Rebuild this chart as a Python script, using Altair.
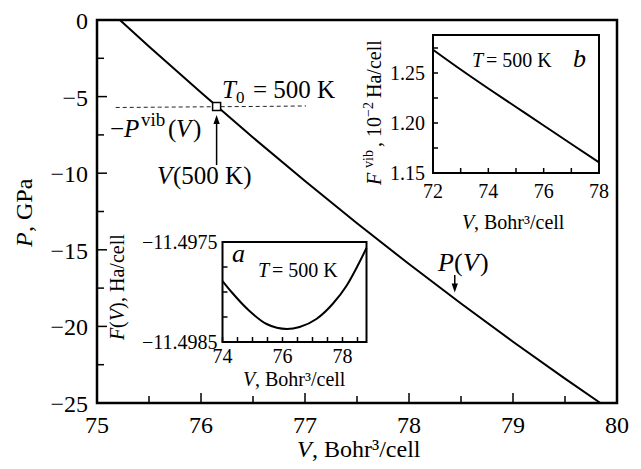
import altair as alt
import pandas as pd

FONT = "Liberation Serif"

# ---------------- main panel: P(V) ----------------
V_MAIN = [75.22, 75.5, 76.0, 76.5, 77.0, 77.5, 78.0, 78.5, 79.0, 79.5, 79.84]
P_MAIN = [0.0, -1.73, -4.74, -7.67, -10.51, -13.27, -15.93, -18.51, -21.00, -23.41, -25.0]
V_VIB = [75.18, 75.6, 76.15, 76.6, 77.01]
P_VIB = [-5.71, -5.69, -5.66, -5.64, -5.61]
V_T0 = [76.15]
P_T0 = [-5.65]
MAIN_X_DOMAIN = [75, 80]
MAIN_Y_DOMAIN = [-25, 0]
MAIN_X_MAJOR = [75, 76, 77, 78, 79, 80]
MAIN_X_LABELS = ["75", "76", "77", "78", "79", "80"]
MAIN_X_MINOR = [75.5, 76.5, 77.5, 78.5, 79.5]
MAIN_Y_MAJOR = [-25, -20, -15, -10, -5, 0]
MAIN_Y_LABELS = ["\u221225", "\u221220", "\u221215", "\u221210", "\u22125", "0"]
MAIN_Y_MINOR = [-22.5, -17.5, -12.5, -7.5, -2.5]

ARROW_V = [76.15, 78.44]
ARROW_P_FROM = [-9.47, -16.64]
ARROW_P_TO = [-6.6, -17.3]
ARROW_HEAD_P = [-6.49, -17.49]
ARROW_DIR = ["up", "down"]

MAIN_TXT = ["T", "0", "= 500 K", "\u2212", "P", "vib", "(", "V", ")", "V", "(500 K)",
            "P", "(", "V", ")", "V", ", Bohr\u00b3/cell", "P", ", GPa"]
MAIN_TXT_V = [76.202, 76.337, 76.500, 75.125, 75.260, 75.423, 75.683, 75.760, 75.924,
              75.577, 75.731, 78.279, 78.433, 78.519, 78.683, 76.923, 77.067, 74.375, 74.375]
MAIN_TXT_P = [-5.091, -5.418, -5.091, -7.637, -7.637, -6.919, -7.637, -7.637, -7.637,
              -10.705, -10.705, -16.384, -16.384, -16.384, -16.384, -28.525, -28.525, -14.817, -13.838]
MAIN_TXT_SIZE = [25, 17, 25, 25, 25, 19, 25, 25, 25, 25, 25, 26, 26, 26, 26, 24, 24, 24, 24]
MAIN_TXT_ITALIC = [1, 0, 0, 0, 1, 0, 0, 1, 0, 1, 0, 1, 0, 1, 0, 1, 0, 1, 0]
MAIN_TXT_ANGLE = [0] * 17 + [270, 270]

# ---------------- inset a: F(V) ----------------
A_V = [74.0, 74.33, 74.9, 75.47, 76.15, 76.57, 77.13, 77.67, 78.13, 78.5, 78.8]
A_F = [-11.49789, -11.49801, -11.49819, -11.49832, -11.49837, -11.49835,
       -11.49827, -11.49812, -11.49794, -11.49774, -11.49756]
A_X_DOMAIN = [74, 78.8]
A_Y_DOMAIN = [-11.4985, -11.4975]
A_X_TICKS = [74, 74.5, 75, 75.5, 76, 76.5, 77, 77.5, 78, 78.5]
A_X_LABEL_AT = [74, 76, 78]
A_X_LABELS = ["74", "76", "78"]
A_Y_TICKS = [-11.4985, -11.49825, -11.498, -11.49775, -11.4975]
A_Y_LABEL_AT = [-11.4985, -11.4975]
A_Y_LABELS = ["\u221211.4985", "\u221211.4975"]
A_TXT = ["a", "T", "= 500 K", "V", ", Bohr\u00b3/cell", "F", "(", "V", ")", ", Ha/cell"]
A_TXT_V = [74.317, 75.183, 75.65, 74.683, 75.083, 70.717, 70.717, 70.717, 70.717, 70.717]
A_TXT_F = [-11.4977, -11.49785, -11.49785, -11.49894, -11.49894,
           -11.49848, -11.49836, -11.49829, -11.49817, -11.4981]
A_TXT_SIZE = [26, 20, 20, 20, 20, 20, 20, 20, 20, 20]
A_TXT_ITALIC = [1, 1, 0, 1, 0, 1, 0, 1, 0, 0]
A_TXT_ANGLE = [0, 0, 0, 0, 0, 270, 270, 270, 270, 270]

# ---------------- inset b: F_vib(V) ----------------
B_V = [72, 73, 74, 75, 76, 77, 78]
B_F = [1.2733, 1.2535, 1.2345, 1.2160, 1.1975, 1.1790, 1.1606]
B_X_DOMAIN = [72, 78]
B_Y_DOMAIN = [1.15, 1.288]
B_X_TICKS = [72, 73, 74, 75, 76, 77, 78]
B_X_LABEL_AT = [72, 74, 76, 78]
B_X_LABELS = ["72", "74", "76", "78"]
B_Y_TICKS = [1.15, 1.175, 1.2, 1.225, 1.25, 1.275]
B_Y_LABEL_AT = [1.15, 1.20, 1.25]
B_Y_LABELS = ["1.15", "1.20", "1.25"]
B_TXT = ["T", "= 500 K", "b", "V", ", Bohr\u00b3/cell", "F", "vib", ", 10", "\u22122", "Ha/cell"]
B_TXT_V = [73.409, 73.915, 77.06, 73.048, 73.482, 70.121, 69.832, 70.121, 69.832, 70.121]
B_TXT_F = [1.256, 1.256, 1.256, 1.094, 1.094, 1.138, 1.155, 1.176, 1.206, 1.225]
B_TXT_SIZE = [20, 20, 26, 20, 20, 20, 14, 20, 14, 20]
B_TXT_ITALIC = [1, 0, 1, 1, 0, 1, 0, 0, 0, 0]
B_TXT_ANGLE = [0, 0, 0, 0, 0, 270, 270, 270, 270, 270]

# ---------------- layout (pixels inside the plot area) ----------------
W, H = 520, 383
A_X_RANGE = [125.5, 269.5]
A_Y_RANGE = [322, 222]
B_X_RANGE = [336, 502]
B_Y_RANGE = [153, 15]
T_MAJOR, T_MINOR, T_IN = 10, 7, 5


def sc(domain, rng=None):
    if rng is None:
        return alt.Scale(domain=domain, nice=False, zero=False)
    return alt.Scale(domain=domain, range=rng, nice=False, zero=False)


def tick_rules(values, channel, dom, rng, start, end):
    df = pd.DataFrame({"v": values})
    if channel == "x":
        enc = dict(x=alt.X("v:Q", scale=sc(dom, rng), axis=None),
                   y=alt.value(start), y2=alt.value(end))
    else:
        enc = dict(y=alt.Y("v:Q", scale=sc(dom, rng), axis=None),
                   x=alt.value(start), x2=alt.value(end))
    return alt.Chart(df).mark_rule(color="black", strokeWidth=1.5).encode(**enc)


def tick_labels(values, labels, channel, dom, rng, pos, size, dy=0):
    df = pd.DataFrame({"v": values, "lab": labels})
    if channel == "x":
        return alt.Chart(df).mark_text(font=FONT, fontSize=size, align="center",
                                       baseline="alphabetic", color="black").encode(
            x=alt.X("v:Q", scale=sc(dom, rng), axis=None), y=alt.value(pos), text="lab:N")
    return alt.Chart(df).mark_text(font=FONT, fontSize=size, align="right",
                                   baseline="middle", color="black", dy=dy).encode(
        y=alt.Y("v:Q", scale=sc(dom, rng), axis=None), x=alt.value(pos), text="lab:N")


def text_layers(txt, xs, ys, sizes, italics, angles, xdom, ydom, xr=None, yr=None):
    df = pd.DataFrame({"t": txt, "x": xs, "y": ys, "fs": sizes, "it": italics, "ang": angles})
    out = []
    for it in (1, 0):
        sub = df[df.it == it]
        out.append(
            alt.Chart(sub).mark_text(font=FONT, fontStyle="italic" if it else "normal",
                                     align="left", baseline="alphabetic", color="black")
            .encode(x=alt.X("x:Q", scale=sc(xdom, xr), axis=None),
                    y=alt.Y("y:Q", scale=sc(ydom, yr), axis=None),
                    text="t:N",
                    size=alt.Size("fs:Q", scale=None),
                    angle=alt.Angle("ang:Q", scale=None))
        )
    return out


def XM(field):
    return alt.X(field, scale=sc(MAIN_X_DOMAIN), axis=None)


def YM(field):
    return alt.Y(field, scale=sc(MAIN_Y_DOMAIN), axis=None)


# ---------------- main panel ----------------
main_line = alt.Chart(pd.DataFrame({"V": V_MAIN, "P": P_MAIN})).mark_line(
    color="black", strokeWidth=2).encode(x=XM("V:Q"), y=YM("P:Q"))
vib_line = alt.Chart(pd.DataFrame({"V": V_VIB, "P": P_VIB})).mark_line(
    color="#222222", strokeWidth=1, strokeDash=[4, 3]).encode(x=XM("V:Q"), y=YM("P:Q"))

arr = pd.DataFrame({"V": ARROW_V, "P": ARROW_P_FROM, "P2": ARROW_P_TO,
                    "H": ARROW_HEAD_P, "d": ARROW_DIR})
shafts = alt.Chart(arr).mark_rule(color="black", strokeWidth=1.5).encode(
    x=XM("V:Q"), y=YM("P:Q"), y2="P2:Q")
head_up = alt.Chart(arr[arr.d == "up"]).mark_point(
    shape="M0,-1L0.7,1L-0.7,1Z", filled=True, color="black", size=81, opacity=1).encode(
    x=XM("V:Q"), y=YM("H:Q"))
head_dn = alt.Chart(arr[arr.d == "down"]).mark_point(
    shape="M0,1L0.7,-1L-0.7,-1Z", filled=True, color="black", size=81, opacity=1).encode(
    x=XM("V:Q"), y=YM("H:Q"))
square = alt.Chart(pd.DataFrame({"V": V_T0, "P": P_T0})).mark_point(
    shape="square", filled=True, fill="white", stroke="black", strokeWidth=1.5,
    size=64, opacity=1).encode(x=XM("V:Q"), y=YM("P:Q"))

main_ticks = [
    tick_rules(MAIN_X_MAJOR, "x", MAIN_X_DOMAIN, None, H - T_MAJOR, H),
    tick_rules(MAIN_X_MINOR, "x", MAIN_X_DOMAIN, None, H - T_MINOR, H),
    tick_rules(MAIN_Y_MAJOR, "y", MAIN_Y_DOMAIN, None, 0, T_MAJOR),
    tick_rules(MAIN_Y_MINOR, "y", MAIN_Y_DOMAIN, None, 0, T_MINOR),
    tick_labels(MAIN_X_MAJOR, MAIN_X_LABELS, "x", MAIN_X_DOMAIN, None, H + 30, 24),
    tick_labels(MAIN_Y_MAJOR, MAIN_Y_LABELS, "y", MAIN_Y_DOMAIN, None, -9, 24, dy=2),
]

main_parts = [main_line, vib_line, shafts, head_up, head_dn, square] + main_ticks + text_layers(
    MAIN_TXT, MAIN_TXT_V, MAIN_TXT_P, MAIN_TXT_SIZE, MAIN_TXT_ITALIC, MAIN_TXT_ANGLE,
    MAIN_X_DOMAIN, MAIN_Y_DOMAIN)

# ---------------- inset a ----------------
a_frame = alt.Chart(pd.DataFrame({"x": [A_X_DOMAIN[0]], "x2": [A_X_DOMAIN[1]],
                                  "y": [A_Y_DOMAIN[0]], "y2": [A_Y_DOMAIN[1]]})).mark_rect(
    fill="white", fillOpacity=0, stroke="black", strokeWidth=2).encode(
    x=alt.X("x:Q", scale=sc(A_X_DOMAIN, A_X_RANGE), axis=None), x2="x2:Q",
    y=alt.Y("y:Q", scale=sc(A_Y_DOMAIN, A_Y_RANGE), axis=None), y2="y2:Q")
a_line = alt.Chart(pd.DataFrame({"x": A_V, "y": A_F})).mark_line(
    color="black", strokeWidth=2, interpolate="monotone").encode(
    x=alt.X("x:Q", scale=sc(A_X_DOMAIN, A_X_RANGE), axis=None),
    y=alt.Y("y:Q", scale=sc(A_Y_DOMAIN, A_Y_RANGE), axis=None))
a_ticks = [
    tick_rules(A_X_TICKS, "x", A_X_DOMAIN, A_X_RANGE, A_Y_RANGE[0] - T_IN, A_Y_RANGE[0]),
    tick_rules(A_Y_TICKS, "y", A_Y_DOMAIN, A_Y_RANGE, A_X_RANGE[0], A_X_RANGE[0] + T_IN),
    tick_labels(A_X_LABEL_AT, A_X_LABELS, "x", A_X_DOMAIN, A_X_RANGE, A_Y_RANGE[0] + 21, 20),
    tick_labels(A_Y_LABEL_AT, A_Y_LABELS, "y", A_Y_DOMAIN, A_Y_RANGE, A_X_RANGE[0] - 5, 20, dy=1),
]
a_parts = [a_frame, a_line] + a_ticks + text_layers(
    A_TXT, A_TXT_V, A_TXT_F, A_TXT_SIZE, A_TXT_ITALIC, A_TXT_ANGLE,
    A_X_DOMAIN, A_Y_DOMAIN, A_X_RANGE, A_Y_RANGE)

# ---------------- inset b ----------------
b_frame = alt.Chart(pd.DataFrame({"x": [B_X_DOMAIN[0]], "x2": [B_X_DOMAIN[1]],
                                  "y": [B_Y_DOMAIN[0]], "y2": [B_Y_DOMAIN[1]]})).mark_rect(
    fill="white", fillOpacity=0, stroke="black", strokeWidth=2).encode(
    x=alt.X("x:Q", scale=sc(B_X_DOMAIN, B_X_RANGE), axis=None), x2="x2:Q",
    y=alt.Y("y:Q", scale=sc(B_Y_DOMAIN, B_Y_RANGE), axis=None), y2="y2:Q")
b_line = alt.Chart(pd.DataFrame({"x": B_V, "y": B_F})).mark_line(
    color="black", strokeWidth=2, interpolate="monotone").encode(
    x=alt.X("x:Q", scale=sc(B_X_DOMAIN, B_X_RANGE), axis=None),
    y=alt.Y("y:Q", scale=sc(B_Y_DOMAIN, B_Y_RANGE), axis=None))
b_ticks = [
    tick_rules(B_X_TICKS, "x", B_X_DOMAIN, B_X_RANGE, B_Y_RANGE[0] - T_IN, B_Y_RANGE[0]),
    tick_rules(B_Y_TICKS, "y", B_Y_DOMAIN, B_Y_RANGE, B_X_RANGE[0], B_X_RANGE[0] + T_IN),
    tick_labels(B_X_LABEL_AT, B_X_LABELS, "x", B_X_DOMAIN, B_X_RANGE, B_Y_RANGE[0] + 25, 20),
    tick_labels(B_Y_LABEL_AT, B_Y_LABELS, "y", B_Y_DOMAIN, B_Y_RANGE, B_X_RANGE[0] - 8, 20, dy=1),
]
b_parts = [b_frame, b_line] + b_ticks + text_layers(
    B_TXT, B_TXT_V, B_TXT_F, B_TXT_SIZE, B_TXT_ITALIC, B_TXT_ANGLE,
    B_X_DOMAIN, B_Y_DOMAIN, B_X_RANGE, B_Y_RANGE)

chart = alt.layer(*(main_parts + a_parts + b_parts)).resolve_scale(
    x="independent", y="independent").properties(
    width=W, height=H,
    padding={"left": 89, "top": 12, "right": 16, "bottom": 58},
    autosize=alt.AutoSizeParams(type="none"),
    background="white",
).configure(font=FONT).configure_view(stroke="black", strokeWidth=2.5)

chart.save("out.html", embed_options={"renderer": "svg", "actions": False})
